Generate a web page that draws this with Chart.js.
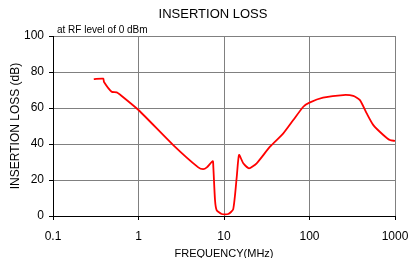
<!DOCTYPE html>
<html>
<head>
<meta charset="utf-8">
<script src="https://cdn.jsdelivr.net/npm/chart.js@4/dist/chart.umd.min.js"></script>
<style>
  html, body { margin: 0; padding: 0; background: #fff; }
  #wrap { width: 410px; height: 258px; }
</style>
</head>
<body>
<div id="wrap"><canvas id="chart"></canvas></div>
<script>
const freqMHz = [0.3, 0.387, 0.395, 0.485, 0.556, 0.636, 1.0, 2.55, 5.0, 5.7, 6.3, 7.38, 7.5, 7.85, 8.2, 9.4, 11.2, 12.8, 14.1, 15.0, 16.8, 19.6, 24.1, 34.5, 49.4, 64.6, 84.7, 100, 144, 248, 325, 389, 467, 558, 730, 871, 1000];
const lossDb = [76, 76.3, 74.4, 69, 68.7, 66.7, 58.9, 39.4, 27, 26, 27, 30.5, 27.4, 8.9, 3.3, 1.1, 1.1, 3.7, 21.8, 33.9, 29.3, 26.5, 29.3, 38.5, 45.9, 53.3, 60.7, 63, 65.7, 67.2, 66.7, 64.4, 57, 50.5, 45, 42.2, 41.7];
const freqTicks = [0.1, 1, 10, 100, 1000];
const lossTicks = [0, 20, 40, 60, 80, 100];

const points = freqMHz.map((f, i) => ({ x: f, y: lossDb[i] }));
const FONT = "'Liberation Sans', Arial, sans-serif";

// title and the small note above the plot
const headerText = {
  id: "headerText",
  afterDraw(chart) {
    const ctx = chart.ctx;
    const area = chart.chartArea;
    ctx.save();
    ctx.fillStyle = "#000";
    ctx.font = "13px " + FONT;
    ctx.textAlign = "center";
    ctx.textBaseline = "middle";
    ctx.fillText("INSERTION LOSS", 213, 14);
    ctx.font = "10px " + FONT;
    ctx.textAlign = "left";
    ctx.fillText("at RF level of 0 dBm", area.left + 4, area.top - 6);
    ctx.restore();
  }
};

new Chart(document.getElementById("chart"), {
  type: "line",
  data: {
    datasets: [{
      data: points,
      borderColor: "#ff0000",
      borderWidth: 1.8,
      pointRadius: 0,
      tension: 0.2,
      fill: false
    }]
  },
  options: {
    responsive: true,
    maintainAspectRatio: false,
    animation: false,
    layout: { padding: { left: 0, right: 15, top: 36, bottom: 0 } },
    plugins: {
      legend: { display: false },
      tooltip: { enabled: false }
    },
    scales: {
      x: {
        type: "logarithmic",
        min: 0.1,
        max: 1000,
        afterBuildTicks: (scale) => { scale.ticks = freqTicks.map(v => ({ value: v })); },
        afterFit: (scale) => {
          scale.height = 42;
          scale.paddingLeft = 0;
          scale.paddingRight = 0;
        },
        ticks: {
          color: "#000",
          font: { family: FONT, size: 12 },
          padding: 9,
          maxRotation: 0,
          callback: (v) => String(v)
        },
        grid: { color: "#808080", lineWidth: 1, tickColor: "#000", tickLength: 4 },
        border: { color: "#000", width: 1 },
        title: {
          display: true,
          text: "FREQUENCY(MHz)",
          color: "#000",
          font: { family: FONT, size: 11 },
          padding: { top: 0, bottom: -3 }
        }
      },
      y: {
        min: 0,
        max: 100,
        afterBuildTicks: (scale) => { scale.ticks = lossTicks.map(v => ({ value: v })); },
        afterFit: (scale) => {
          scale.width = 53;
          scale.paddingTop = 0;
          scale.paddingBottom = 0;
        },
        ticks: {
          color: "#000",
          font: { family: FONT, size: 12 },
          padding: 5
        },
        grid: { color: "#808080", lineWidth: 1, tickColor: "#000", tickLength: 4 },
        border: { color: "#000", width: 1 },
        title: {
          display: true,
          text: "INSERTION LOSS (dB)",
          color: "#000",
          font: { family: FONT, size: 12 },
          padding: { top: 8, bottom: 0 }
        }
      }
    }
  },
  plugins: [headerText]
});
</script>
</body>
</html>
